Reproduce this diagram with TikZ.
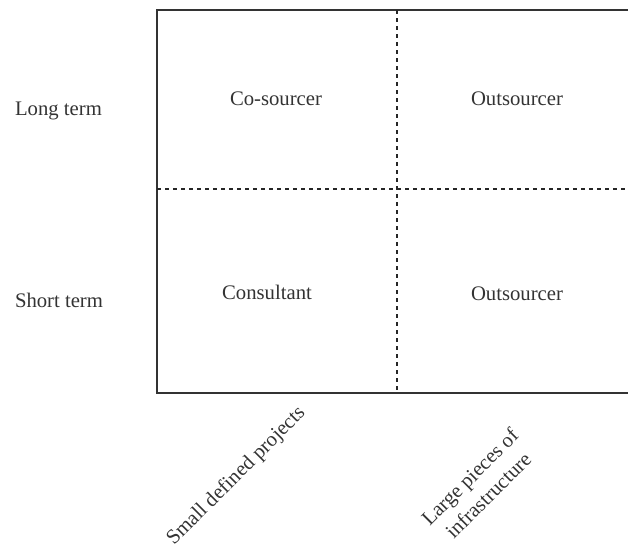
\documentclass[tikz,border=0pt]{standalone}
\usepackage{fontspec}
\setmainfont{Liberation Serif}
\begin{document}
\begin{tikzpicture}[x=1pt,y=-1pt,
  lbl/.style={font=\fontsize{20.7}{26}\selectfont, text=black!80, inner sep=0pt},
  frame/.style={line width=2pt, draw=black!80},
  divider/.style={line width=2pt, draw=black!85, dash pattern=on 4pt off 4pt}]
\useasboundingbox (0,0) rectangle (628,550);
\clip (0,0) rectangle (628,550);
\draw[frame] (157,10) rectangle (660,393);
\coordinate (vtop) at (397,10);
\coordinate (vbot) at (397,393);
\coordinate (hleft) at (157,189);
\coordinate (hright) at (628,189);
\draw[divider] (vtop) -- (vbot);
\draw[divider] (hleft) -- (hright);
\node[lbl, anchor=base] (long) at (58.5,115) {Long term};
\node[lbl, anchor=base] (short) at (59,307) {Short term};
\node[lbl, anchor=base] (cos) at (276,105) {Co-sourcer};
\node[lbl, anchor=base] (out1) at (517,105) {Outsourcer};
\node[lbl, anchor=base] (cons) at (267,299) {Consultant};
\node[lbl, anchor=base] (out2) at (517,300) {Outsourcer};
\node[lbl, anchor=base, rotate=45] (small) at (240,480) {Small defined projects};
\node[lbl, align=center, rotate=45] (large) at (479,486) {Large pieces of\\infrastructure};
\end{tikzpicture}
\end{document}
